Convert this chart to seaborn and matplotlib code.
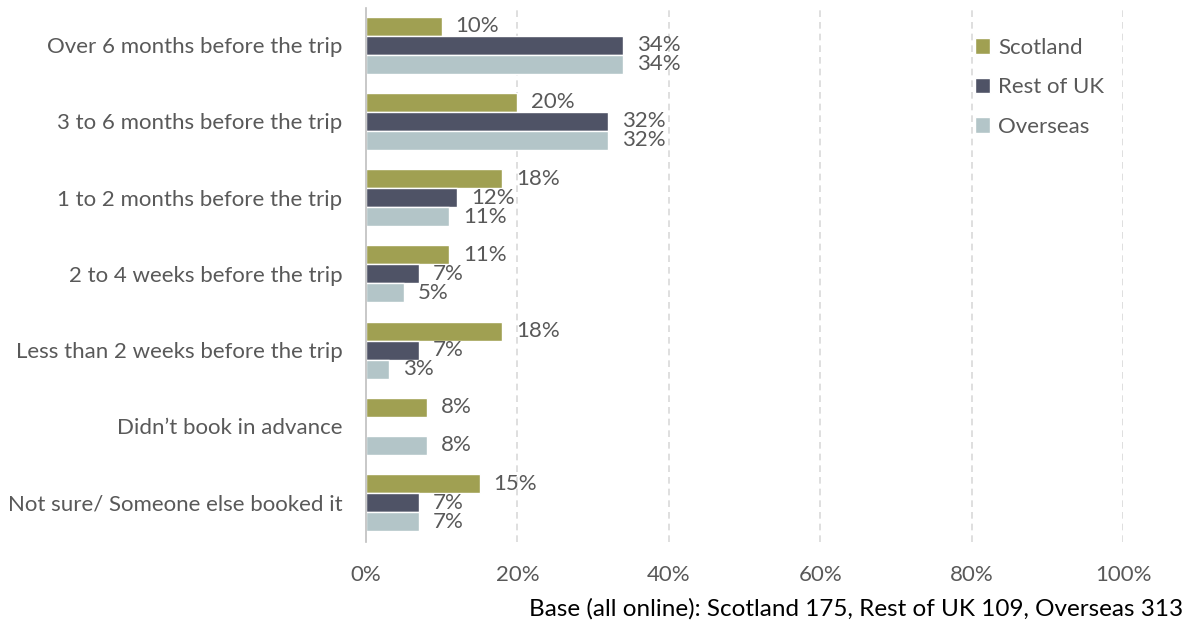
import pandas as pd
import numpy as np
import matplotlib.pyplot as plt
import seaborn as sns

categories = [
    "Over 6 months before the trip",
    "3 to 6 months before the trip",
    "1 to 2 months before the trip",
    "2 to 4 weeks before the trip",
    "Less than 2 weeks before the trip",
    "Didn\u2019t book in advance",
    "Not sure/ Someone else booked it",
]
series = ["Scotland", "Rest of UK", "Overseas"]
scotland = [10, 20, 18, 11, 18, 8, 15]
rest_of_uk = [34, 32, 12, 7, 7, np.nan, 7]
overseas = [34, 32, 11, 5, 3, 8, 7]
colors = ["#A0A052", "#4F5366", "#B3C5C8"]
x_ticks = [0, 20, 40, 60, 80, 100]
base_note = "Base (all online): Scotland 175, Rest of UK 109, Overseas 313"

rows = []
for name, vals in zip(series, [scotland, rest_of_uk, overseas]):
    for cat, v in zip(categories, vals):
        rows.append({"Timing": cat, "Market": name, "Pct": v})
df = pd.DataFrame(rows)

sns.set_style("white")
plt.rcParams["font.family"] = ["Lato", "DejaVu Sans"]
text_col = "#595959"
fs = 16

fig = plt.figure(figsize=(11.91, 6.25), dpi=100)
ax = fig.add_axes([0.3073, 0.133, 0.6356, 0.854])

sns.barplot(data=df, y="Timing", x="Pct", hue="Market", order=categories,
            hue_order=series, palette=colors, orient="h", width=0.75,
            saturation=1, ax=ax, legend=True)

# percentage labels at bar ends (skip the missing bar)
for cont in ax.containers:
    labels = ["" if np.isnan(v) else f"{v:.0f}%" for v in cont.datavalues]
    ax.bar_label(cont, labels=labels, padding=10, fontsize=fs, color=text_col)

ax.set_xlim(0, 100)
ax.set_ylim(6.515, -0.485)
ax.set_xticks(x_ticks)
ax.set_xticklabels([f"{t}%" for t in x_ticks], fontsize=fs, color=text_col)
ax.tick_params(axis="y", labelsize=fs, labelcolor=text_col, length=0, pad=17)
ax.tick_params(axis="x", length=0, pad=17)
ax.set_xlabel("")
ax.set_ylabel("")
for t in x_ticks[1:]:
    ax.axvline(t, color="#D9D9D9", linestyle=(0, (4, 3)), linewidth=1.2, zorder=0)
for s in ["top", "right", "bottom"]:
    ax.spines[s].set_visible(False)
ax.spines["left"].set_color("#BFBFBF")
ax.spines["left"].set_linewidth(1.2)

leg = ax.legend(loc="upper left", bbox_to_anchor=(0.778, 0.982), frameon=False,
                fontsize=fs, handlelength=0.7, handleheight=0.7,
                handletextpad=0.35, labelspacing=0.88)
for t in leg.get_texts():
    t.set_color(text_col)

fig.text(0.993, 0.008, base_note, ha="right", va="bottom", fontsize=17.5, color="black")

fig.savefig("out.png", dpi=100)
